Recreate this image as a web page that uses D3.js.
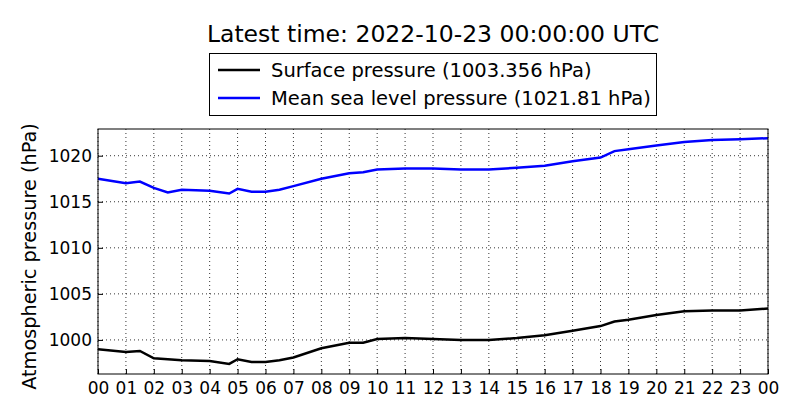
<!DOCTYPE html>
<html><head><meta charset="utf-8">
<script src="https://cdn.jsdelivr.net/npm/d3@7"></script>
<style>body{margin:0;background:#fff}svg{font-family:"DejaVu Sans",sans-serif}</style>
</head><body><svg id="c" width="800" height="420"></svg>
<script>
const hours=[0,1,1.5,2,2.5,3,4,4.7,5,5.5,6,6.5,7,8,9,9.5,10,11,12,13,14,15,16,17,18,18.5,19,20,21,22,23,24];
const msl=[1017.5,1017.0,1017.2,1016.5,1016.0,1016.3,1016.2,1015.9,1016.4,1016.1,1016.1,1016.3,1016.7,1017.5,1018.1,1018.2,1018.5,1018.6,1018.6,1018.5,1018.5,1018.7,1018.9,1019.4,1019.8,1020.5,1020.7,1021.1,1021.5,1021.7,1021.8,1021.9];
const sfc=[999.0,998.7,998.8,998.0,997.9,997.8,997.7,997.4,997.9,997.6,997.6,997.8,998.1,999.1,999.7,999.7,1000.1,1000.2,1000.1,1000.0,1000.0,1000.2,1000.5,1001.0,1001.5,1002.0,1002.2,1002.7,1003.1,1003.2,1003.2,1003.4];
const yTicks=[1000,1005,1010,1015,1020];
const xTicks=d3.range(0,25);
const svg=d3.select("#c");
const L=98,R=768,T=129,B=374;
const x=d3.scaleLinear().domain([0,24]).range([L,R]);
const y=d3.scaleLinear().domain([996.3,1022.9]).range([B,T]);
const g=svg.append("g");
xTicks.forEach(t=>g.append("line").attr("x1",x(t)).attr("x2",x(t)).attr("y1",T).attr("y2",B).attr("stroke","#000").attr("stroke-width",0.8).attr("stroke-dasharray","1,3"));
yTicks.forEach(t=>g.append("line").attr("x1",L).attr("x2",R).attr("y1",y(t)).attr("y2",y(t)).attr("stroke","#000").attr("stroke-width",0.8).attr("stroke-dasharray","1,3"));
const line=d3.line().x((d,i)=>x(hours[i])).y(d=>y(d));
svg.append("path").datum(msl).attr("d",line).attr("fill","none").attr("stroke","#0000ff").attr("stroke-width",2.5);
svg.append("path").datum(sfc).attr("d",line).attr("fill","none").attr("stroke","#000").attr("stroke-width",2.5);
svg.append("rect").attr("x",L).attr("y",T).attr("width",R-L).attr("height",B-T).attr("fill","none").attr("stroke","#000");
const xa=svg.append("g").attr("transform",`translate(0,${B})`).call(d3.axisBottom(x).tickValues(xTicks).tickFormat(d=>String(d%24).padStart(2,"0")).tickSize(-5).tickPadding(8));
const ya=svg.append("g").attr("transform",`translate(${L},0)`).call(d3.axisLeft(y).tickValues(yTicks).tickFormat(d=>String(d)).tickSize(-5).tickPadding(6));
[xa,ya].forEach(a=>{a.select(".domain").remove();a.selectAll("text").attr("font-size",17).attr("fill","#000").attr("font-family","DejaVu Sans");});
svg.append("text").attr("transform",`translate(36,${(T+B)/2+5}) rotate(-90)`).attr("text-anchor","middle").attr("font-size",19.3).text("Atmospheric pressure (hPa)");
svg.append("text").attr("x",433).attr("y",42).attr("text-anchor","middle").attr("font-size",23.5).text("Latest time: 2022-10-23 00:00:00 UTC");
svg.append("rect").attr("x",209.5).attr("y",53.5).attr("width",447).attr("height",62).attr("fill","#fff").attr("stroke","#000");
[["Surface pressure (1003.356 hPa)","#000",70],["Mean sea level pressure (1021.81 hPa)","#0000ff",98]].forEach(([t,c,yy])=>{
svg.append("line").attr("x1",218).attr("x2",260).attr("y1",yy).attr("y2",yy).attr("stroke",c).attr("stroke-width",2.5);
svg.append("text").attr("x",271).attr("y",yy+7).attr("font-size",19.5).text(t);});
</script></body></html>
